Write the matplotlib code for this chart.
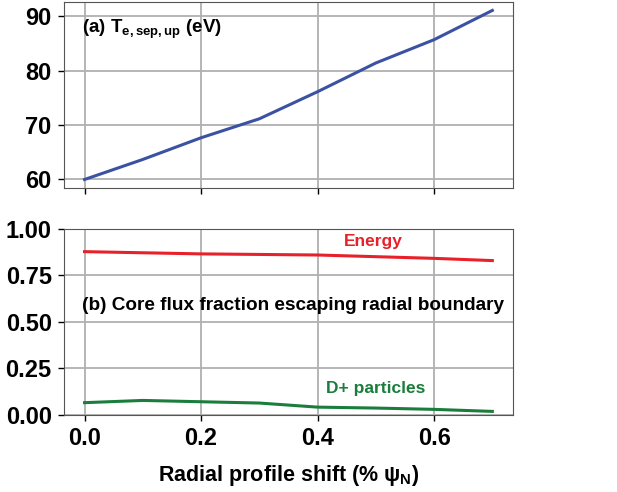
import matplotlib
matplotlib.use("Agg")
import matplotlib.pyplot as plt

plt.rcParams['font.family'] = ['Liberation Sans', 'DejaVu Sans']
plt.rcParams['font.weight'] = 'bold'
plt.rcParams['mathtext.fontset'] = 'custom'
plt.rcParams['mathtext.rm'] = 'Liberation Sans:bold'
plt.rcParams['mathtext.it'] = 'Liberation Sans:bold'
plt.rcParams['mathtext.bf'] = 'Liberation Sans:bold'

shift = [0.0, 0.1, 0.2, 0.3, 0.4, 0.5, 0.6, 0.7]
te_sep_up = [59.9, 63.6, 67.6, 71.1, 76.1, 81.4, 85.7, 91.1]
energy_frac = [0.877, 0.871, 0.865, 0.862, 0.859, 0.850, 0.841, 0.829]
dplus_frac = [0.065, 0.077, 0.070, 0.063, 0.041, 0.036, 0.029, 0.018]

fig = plt.figure(figsize=(6.17, 4.92), dpi=100)
ax1 = fig.add_axes([0.104, 0.618, 0.727, 0.378])
ax2 = fig.add_axes([0.104, 0.157, 0.727, 0.378], sharex=ax1)

ax1.plot(shift, te_sep_up, color='#3b52a3', lw=2.2)
ax1.set_yticks([60, 70, 80, 90])
ax1.text(0.04, 0.85, r'(a) T$_{e,sep,up}$ (eV)', transform=ax1.transAxes,
         fontsize=13.5, fontweight='bold', va='center')
plt.setp(ax1.get_xticklabels(), visible=False)

ax2.plot(shift, energy_frac, color='#e8202a', lw=2.2)
ax2.plot(shift, dplus_frac, color='#1b7d3c', lw=2.2)
ax2.set_ylim(0, 1)
ax2.set_yticks([0, 0.25, 0.5, 0.75, 1.0])
ax2.set_xticks([0.0, 0.2, 0.4, 0.6])
ax2.text(0.496, 0.93, 'Energy', color='#e8202a', fontsize=12.5,
         fontweight='bold', ha='center', va='center')
ax2.text(0.50, 0.142, 'D+ particles', color='#1b7d3c', fontsize=12.5,
         fontweight='bold', ha='center', va='center')
ax2.text(-0.005, 0.585, '(b) Core flux fraction escaping radial boundary',
         fontsize=13.7, fontweight='bold', va='center')
ax2.set_xlabel(r'Radial profile shift (% $\psi_{N}$)', fontsize=15.5,
               fontweight='bold', labelpad=9)

for ax in (ax1, ax2):
    ax.grid(True, color='#b0b0b0', lw=1.3)
    ax.tick_params(labelsize=17, width=1, length=4, pad=5)
    for lab in ax.get_xticklabels() + ax.get_yticklabels():
        lab.set_fontweight('bold')
    for sp in ax.spines.values():
        sp.set_color('#555555')

fig.savefig('out.png', dpi=100)
